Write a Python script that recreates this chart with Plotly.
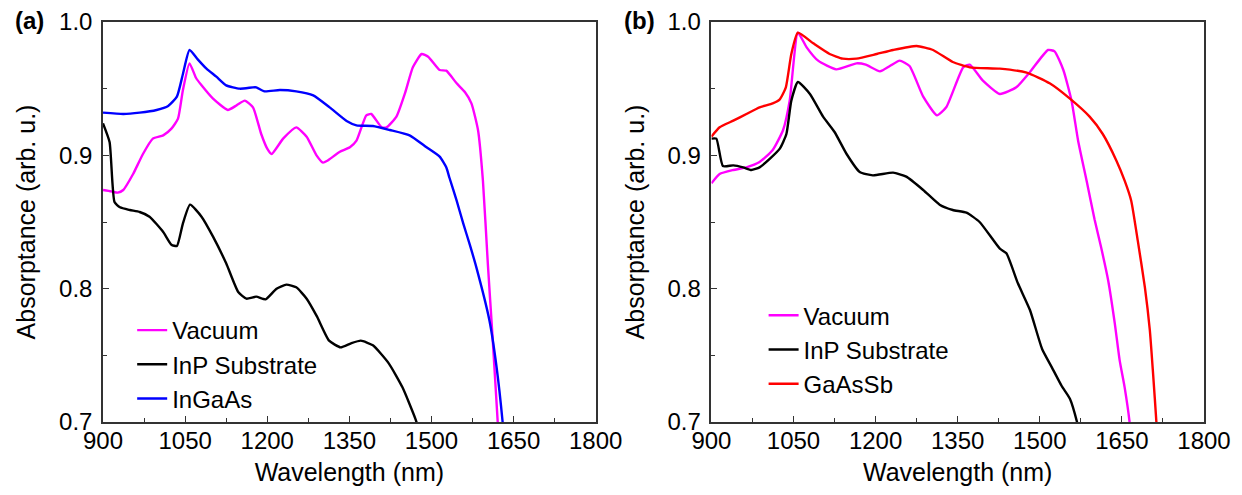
import plotly.graph_objects as go

# ---------------- Panel (a) data ----------------
va_x = [900, 915, 927, 937, 955, 973, 991, 1010, 1025, 1037, 1046, 1058, 1070, 1080, 1101, 1128, 1144, 1159, 1174, 1189, 1200, 1208, 1229, 1253, 1272, 1290, 1302, 1310, 1332, 1351, 1363, 1381, 1390, 1409, 1418, 1436, 1452, 1466, 1482, 1494, 1515, 1527, 1546, 1561, 1573, 1585, 1594, 1603, 1612, 1621, 1628]
va_y = [0.874, 0.873, 0.872, 0.874, 0.886, 0.901, 0.9125, 0.915, 0.920, 0.9275, 0.949, 0.969, 0.958, 0.9525, 0.9425, 0.934, 0.9375, 0.941, 0.936, 0.916, 0.905, 0.901, 0.9125, 0.921, 0.914, 0.900, 0.8945, 0.896, 0.9025, 0.906, 0.911, 0.930, 0.931, 0.921, 0.921, 0.929, 0.947, 0.966, 0.976, 0.974, 0.964, 0.9635, 0.954, 0.9475, 0.939, 0.919, 0.881, 0.8185, 0.761, 0.70, 0.65]

ia_x = [900, 912, 921, 931, 949, 967, 985, 1010, 1025, 1035, 1046, 1059, 1080, 1101, 1125, 1147, 1162, 1180, 1197, 1217, 1235, 1253, 1272, 1291, 1313, 1334, 1353, 1371, 1393, 1422, 1447, 1471, 1480]
ia_y = [0.924, 0.910, 0.865, 0.861, 0.859, 0.8575, 0.854, 0.8425, 0.833, 0.832, 0.849, 0.863, 0.854, 0.839, 0.819, 0.7975, 0.7925, 0.794, 0.792, 0.800, 0.803, 0.801, 0.7925, 0.779, 0.761, 0.756, 0.759, 0.761, 0.7575, 0.744, 0.726, 0.702, 0.69]

ig_x = [900, 937, 967, 998, 1019, 1035, 1046, 1058, 1073, 1089, 1107, 1125, 1150, 1174, 1180, 1195, 1223, 1253, 1284, 1314, 1345, 1363, 1393, 1424, 1460, 1491, 1515, 1527, 1533, 1546, 1558, 1570, 1582, 1606, 1619, 1630, 1636]
ig_y = [0.932, 0.931, 0.932, 0.934, 0.937, 0.944, 0.961, 0.979, 0.972, 0.965, 0.959, 0.9525, 0.950, 0.951, 0.951, 0.948, 0.949, 0.948, 0.945, 0.936, 0.9258, 0.9225, 0.922, 0.919, 0.915, 0.906, 0.899, 0.891, 0.883, 0.866, 0.849, 0.833, 0.816, 0.776, 0.741, 0.700, 0.67]

# ---------------- Panel (b) data ----------------
vb_x = [900, 915, 940, 964, 988, 1012, 1031, 1043, 1058, 1074, 1095, 1128, 1165, 1182, 1208, 1226, 1244, 1262, 1287, 1312, 1329, 1360, 1372, 1396, 1427, 1457, 1482, 1515, 1527, 1543, 1558, 1570, 1586, 1600, 1612, 1625, 1637, 1646, 1655, 1664, 1672]
vb_y = [0.879, 0.886, 0.889, 0.891, 0.895, 0.904, 0.919, 0.941, 0.992, 0.981, 0.971, 0.9645, 0.969, 0.968, 0.963, 0.967, 0.971, 0.967, 0.944, 0.930, 0.936, 0.966, 0.968, 0.956, 0.946, 0.951, 0.9625, 0.979, 0.978, 0.964, 0.941, 0.911, 0.880, 0.852, 0.831, 0.806, 0.774, 0.746, 0.726, 0.70, 0.66]

ib_x = [900, 909, 921, 940, 958, 973, 988, 1007, 1025, 1037, 1046, 1058, 1080, 1104, 1125, 1147, 1171, 1195, 1232, 1256, 1287, 1317, 1341, 1366, 1390, 1427, 1439, 1460, 1482, 1504, 1522, 1540, 1555, 1568, 1578]
ib_y = [0.9125, 0.9125, 0.892, 0.8925, 0.891, 0.889, 0.891, 0.8975, 0.905, 0.916, 0.941, 0.955, 0.946, 0.929, 0.9175, 0.901, 0.8875, 0.885, 0.887, 0.884, 0.874, 0.863, 0.859, 0.857, 0.850, 0.830, 0.8265, 0.804, 0.784, 0.755, 0.741, 0.727, 0.7175, 0.70, 0.68]

gs_x = [900, 915, 940, 964, 988, 1012, 1025, 1036, 1046, 1058, 1086, 1116, 1140, 1165, 1202, 1232, 1275, 1305, 1341, 1372, 1427, 1476, 1518, 1555, 1591, 1615, 1640, 1655, 1667, 1679, 1692, 1701, 1707, 1713, 1718]
gs_y = [0.914, 0.921, 0.926, 0.931, 0.936, 0.939, 0.942, 0.951, 0.976, 0.992, 0.984, 0.976, 0.9725, 0.9725, 0.976, 0.979, 0.982, 0.979, 0.970, 0.966, 0.965, 0.962, 0.954, 0.9425, 0.929, 0.916, 0.896, 0.881, 0.866, 0.836, 0.801, 0.769, 0.736, 0.70, 0.66]

x_ticks = [900, 1050, 1200, 1350, 1500, 1650, 1800]
y_ticks = [0.7, 0.8, 0.9, 1.0]

MAGENTA = "#FF00FF"
BLACK = "#000000"
BLUE = "#0000FF"
RED = "#FF0000"
FONT = "Liberation Sans, Arial, sans-serif"
TICK_FS = 24
TITLE_FS = 25
LEG_FS = 24
LW = 2.4

fig = go.Figure()

def add(x, y, name, color, xa, ya, legend):
    fig.add_trace(go.Scatter(x=x, y=y, name=name, mode="lines",
                             line=dict(color=color, width=LW, shape="spline", smoothing=0.5),
                             xaxis=xa, yaxis=ya, legend=legend))

add(va_x, va_y, "Vacuum", MAGENTA, "x", "y", "legend")
add(ia_x, ia_y, "InP Substrate", BLACK, "x", "y", "legend")
add(ig_x, ig_y, "InGaAs", BLUE, "x", "y", "legend")
add(vb_x, vb_y, "Vacuum", MAGENTA, "x2", "y2", "legend2")
add(ib_x, ib_y, "InP Substrate", BLACK, "x2", "y2", "legend2")
add(gs_x, gs_y, "GaAsSb", RED, "x2", "y2", "legend2")

axis_common = dict(showline=True, linecolor="#333333", linewidth=1.5, mirror=True,
                   ticks="inside", ticklen=6, tickwidth=1.3, tickcolor="#333333",
                   showgrid=False, zeroline=False, automargin=False,
                   tickfont=dict(family=FONT, size=TICK_FS, color="#000000"))

xa = dict(axis_common, range=[900, 1800], tickvals=x_ticks, ticklabelstandoff=-4,
          minor=dict(ticks="inside", ticklen=4, tickwidth=1.3, tickcolor="#333333", dtick=75, tick0=900),
          title=dict(text="Wavelength (nm)", font=dict(family=FONT, size=TITLE_FS, color="#000"), standoff=11))
ya = dict(axis_common, range=[0.7, 1.0], tickvals=y_ticks, tickformat=".1f", ticklabelstandoff=4,
          minor=dict(ticks="inside", ticklen=4, tickwidth=1.3, tickcolor="#333333", dtick=0.05, tick0=0.7),
          title=dict(text="Absorptance (arb. u.)", font=dict(family=FONT, size=TITLE_FS, color="#000"), standoff=16))

# The page adds an 8 px body margin, so the figure is 8 px smaller and margins shifted.
fig.update_layout(
    width=1234, height=487,
    margin=dict(l=95, r=38, t=14, b=73, autoexpand=False),
    plot_bgcolor="white", paper_bgcolor="white",
    font=dict(family=FONT, size=TICK_FS, color="#000"),
    xaxis=dict(xa, domain=[0, 0.4475], anchor="y"),
    yaxis=dict(ya, anchor="x"),
    xaxis2=dict(xa, domain=[0.5526, 1.0], anchor="y2"),
    yaxis2=dict(ya, anchor="x2"),
    legend=dict(x=0.0265, y=0.285, xanchor="left", yanchor="top", bgcolor="rgba(0,0,0,0)",
                font=dict(family=FONT, size=LEG_FS), tracegroupgap=0, itemwidth=30),
    legend2=dict(x=0.6, y=0.322, xanchor="left", yanchor="top", bgcolor="rgba(0,0,0,0)",
                 font=dict(family=FONT, size=LEG_FS), tracegroupgap=0, itemwidth=30),
    showlegend=True,
    annotations=[
        dict(text="<b>(a)</b>", x=-0.0817, y=1.004, xref="paper", yref="paper", xanchor="left", yanchor="middle",
             showarrow=False, font=dict(family=FONT, size=24, color="#000")),
        dict(text="<b>(b)</b>", x=0.4714, y=1.004, xref="paper", yref="paper", xanchor="left", yanchor="middle",
             showarrow=False, font=dict(family=FONT, size=24, color="#000")),
    ],
)

fig.write_html("out.html")
